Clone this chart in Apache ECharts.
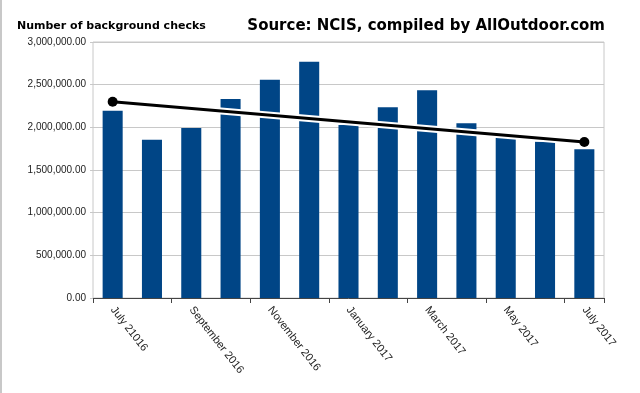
<!DOCTYPE html>
<html>
<head>
<meta charset="utf-8">
<script src="https://cdn.jsdelivr.net/npm/echarts@6/dist/echarts.min.js"></script>
<style>
html,body{margin:0;padding:0;background:#fff;}
#c{width:640px;height:393px;position:relative;}
#edge{position:absolute;left:0;top:0;width:2px;height:393px;background:#c8c8c8;}
</style>
</head>
<body>
<div id="c"></div>
<div id="edge"></div>
<script>
var categories = ["July 21016","August 2016","September 2016","October 2016","November 2016","December 2016","January 2017","February 2017","March 2017","April 2017","May 2017","June 2017","July 2017"];
var checks = [2195000,1855000,1992000,2332000,2558000,2769000,2027000,2235000,2434000,2047000,1878000,1832000,1742000];
var trend = [2300000,null,null,null,null,null,null,null,null,null,null,null,1828000];
var yTicks = [0,500000,1000000,1500000,2000000,2500000,3000000];

var chart = echarts.init(document.getElementById('c'), null, {renderer:'canvas'});
function fmt(v){
  return v.toLocaleString('en-US',{minimumFractionDigits:2,maximumFractionDigits:2});
}
chart.setOption({
  animation:false,
  backgroundColor:'#fff',
  title:[
    {text:'Number of background checks',left:17,top:21,padding:0,textStyle:{fontFamily:'DejaVu Sans',fontWeight:'bold',fontSize:11,color:'#000'}},
    {text:'Source: NCIS, compiled by AllOutdoor.com',right:35,top:19,padding:0,textStyle:{fontFamily:'DejaVu Sans',fontWeight:'bold',fontSize:15,color:'#000'}}
  ],
  grid:{left:93,right:36,top:42,bottom:95,show:true,borderColor:'#c8c8c8',borderWidth:1},
  xAxis:{
    type:'category',data:categories,
    axisLine:{lineStyle:{color:'#444',width:1}},
    axisTick:{show:true,length:5,lineStyle:{color:'#444'},alignWithLabel:false},
    axisLabel:{interval:1,rotate:-52,margin:10,fontFamily:'Liberation Sans',fontSize:11,color:'#222'},
    splitLine:{show:false}
  },
  yAxis:{
    type:'value',min:yTicks[0],max:yTicks[yTicks.length-1],interval:500000,
    axisLine:{show:false},
    axisTick:{show:true,length:3,lineStyle:{color:'#c8c8c8'}},
    axisLabel:{formatter:fmt,fontFamily:'Liberation Sans',fontSize:10,color:'#222',margin:7},
    splitLine:{lineStyle:{color:'#c8c8c8'}}
  },
  series:[
    {type:'bar',data:checks,barWidth:'51%',itemStyle:{color:'#004586'},z:2},
    {type:'line',data:trend,connectNulls:true,symbol:'none',lineStyle:{color:'#fff',width:7},z:3,silent:true},
    {type:'line',data:trend,connectNulls:true,symbol:'circle',symbolSize:10,itemStyle:{color:'#000'},lineStyle:{color:'#000',width:3},z:4}
  ]
});
</script>
</body>
</html>
